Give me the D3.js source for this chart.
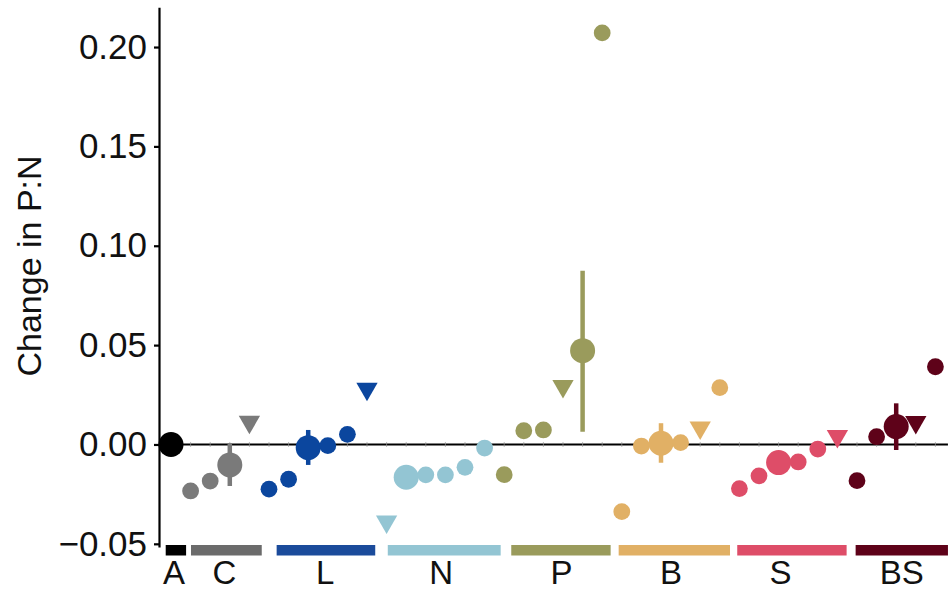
<!DOCTYPE html>
<html>
<head>
<meta charset="utf-8">
<script src="https://cdn.jsdelivr.net/npm/d3@7"></script>
<style>
  body { margin: 0; background: #fff; }
  svg text { font-family: "Liberation Sans", Arial, Helvetica, sans-serif; }
</style>
</head>
<body>
<div id="chart"></div>
<script>
// groups along the x axis
const groups = ["A", "C", "L", "N", "P", "B", "S", "BS"];
const groupColors = ["#000000", "#7a7a7a", "#0b469e", "#93c5d3", "#9a9b5c", "#e1b065", "#de4d68", "#5e0219"];
const barColors = ["#000000", "#6b6b6b", "#1b4b9b", "#93c5d3", "#9a9b5c", "#e1b065", "#de4d68", "#5e0219"];
// group bar extents and label spots, in point-index units
const groupStart = [0.73, 2.02, 6.39, 12.06, 18.36, 23.84, 29.89, 35.93];
const groupEnd = [1.77, 5.63, 11.42, 17.82, 23.43, 29.52, 35.47, 40.64];
const groupLabelAt = [1.15, 3.73, 8.86, 14.78, 20.93, 26.51, 32.1, 38.28];

// one entry per point, in plotting order (index 1..40)
const pointGroup = ["A",
  "C", "C", "C", "C",
  "L", "L", "L", "L", "L", "L",
  "N", "N", "N", "N", "N", "N",
  "P", "P", "P", "P", "P", "P",
  "B", "B", "B", "B", "B", "B",
  "S", "S", "S", "S", "S", "S",
  "BS", "BS", "BS", "BS", "BS"];
const pointValue = [0,
  -0.0234, -0.0184, -0.0103, 0.0113,
  -0.0225, -0.0175, -0.0016, -0.0006, 0.0051, 0.0280,
  -0.0389, -0.0165, -0.0153, -0.0153, -0.0115, -0.0018,
  -0.0152, 0.0069, 0.0073, 0.0293, 0.0472, 0.2071,
  -0.0338, -0.0008, 0.0006, 0.0009, 0.0084, 0.0286,
  -0.0222, -0.0158, -0.0091, -0.0088, -0.0023, 0.0042,
  -0.0182, 0.0039, 0.0090, 0.0112, 0.0391];
// "site" = small circle, "mean" = large circle, "tri" = downward triangle
const pointKind = ["mean",
  "site", "site", "mean", "tri",
  "site", "site", "mean", "site", "site", "tri",
  "tri", "mean", "site", "site", "site", "site",
  "site", "site", "site", "tri", "mean", "site",
  "site", "site", "mean", "site", "tri", "site",
  "site", "site", "mean", "site", "site", "tri",
  "site", "site", "mean", "tri", "site"];
// error bars on group means: [index, low, high]
const errorBars = [
  [4, -0.0209, 0.0006],
  [8, -0.0103, 0.0073],
  [22, 0.0064, 0.0874],
  [26, -0.0092, 0.0107],
  [38, -0.0028, 0.0207]
];
const yTicks = [-0.05, 0, 0.05, 0.10, 0.15, 0.20];
const yTitle = "Change in P:N";

const width = 951, height = 594;
const svg = d3.select("#chart").append("svg")
  .attr("width", width)
  .attr("height", height);

const x = d3.scaleLinear().domain([1, 40]).range([171, 935.4]);
const y = d3.scaleLinear().domain([-0.0516, 0.22]).range([547, 7.3]);
const color = d3.scaleOrdinal().domain(groups).range(groupColors);

const axisX = 159;

// zero line with small ticks at each point position
svg.append("line")
  .attr("x1", axisX).attr("x2", x(40.64))
  .attr("y1", y(0)).attr("y2", y(0))
  .attr("stroke", "#000").attr("stroke-width", 2);

svg.append("g").selectAll("line")
  .data(d3.range(1, 41))
  .enter().append("line")
  .attr("x1", d => x(d)).attr("x2", d => x(d))
  .attr("y1", y(0) - 2.5).attr("y2", y(0) + 2.5)
  .attr("stroke", "#999").attr("stroke-width", 0.7);

// y axis
const yAxis = d3.axisLeft(y)
  .tickValues(yTicks)
  .tickFormat(d3.format(".2f"))
  .tickSize(5)
  .tickSizeOuter(0)
  .tickPadding(7);

const gy = svg.append("g")
  .attr("transform", "translate(" + axisX + ",0)")
  .call(yAxis);
gy.select(".domain").attr("stroke", "#000").attr("stroke-width", 2.2);
gy.selectAll(".tick line").attr("stroke", "#000").attr("stroke-width", 2.2);
gy.selectAll(".tick text")
  .attr("fill", "#111")
  .style("font-size", "35px");

svg.append("text")
  .attr("transform", "translate(41,266) rotate(-90)")
  .attr("text-anchor", "middle")
  .attr("fill", "#111")
  .style("font-size", "34px")
  .text(yTitle);

// error bars
svg.append("g").selectAll("line")
  .data(errorBars)
  .enter().append("line")
  .attr("x1", d => x(d[0])).attr("x2", d => x(d[0]))
  .attr("y1", d => y(d[1])).attr("y2", d => y(d[2]))
  .attr("stroke", d => color(pointGroup[d[0] - 1]))
  .attr("stroke-width", 4.5);

const points = pointValue.map((v, i) => ({
  idx: i + 1, value: v, group: pointGroup[i], kind: pointKind[i]
}));

// circles
svg.append("g").selectAll("circle")
  .data(points.filter(d => d.kind !== "tri"))
  .enter().append("circle")
  .attr("cx", d => x(d.idx))
  .attr("cy", d => y(d.value))
  .attr("r", d => d.kind === "mean" ? 12.5 : 8.4)
  .attr("fill", d => color(d.group));

// downward triangles, centred on the centroid
const tr = 12.3;
svg.append("g").selectAll("path")
  .data(points.filter(d => d.kind === "tri"))
  .enter().append("path")
  .attr("transform", d => "translate(" + x(d.idx) + "," + y(d.value) + ")")
  .attr("d", "M" + (-tr * 0.866) + "," + (-tr / 2) +
             "L" + (tr * 0.866) + "," + (-tr / 2) +
             "L0," + tr + "Z")
  .attr("fill", d => color(d.group));

// group bars and labels under the plot
const gGroups = svg.append("g");
gGroups.selectAll("rect")
  .data(groups)
  .enter().append("rect")
  .attr("x", (d, i) => x(groupStart[i]))
  .attr("width", (d, i) => x(groupEnd[i]) - x(groupStart[i]))
  .attr("y", 545)
  .attr("height", 10.5)
  .attr("fill", (d, i) => barColors[i]);

gGroups.selectAll("text")
  .data(groups)
  .enter().append("text")
  .attr("x", (d, i) => x(groupLabelAt[i]))
  .attr("y", 584)
  .attr("text-anchor", "middle")
  .attr("fill", "#111")
  .style("font-size", "33px")
  .text(d => d);
</script>
</body>
</html>
